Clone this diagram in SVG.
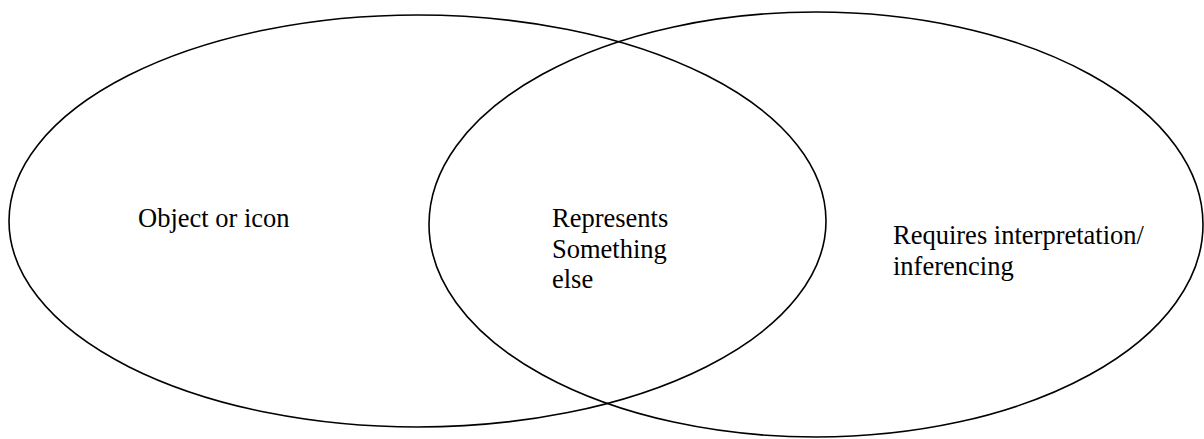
<svg xmlns="http://www.w3.org/2000/svg" width="1204" height="439" viewBox="0 0 1204 439">
<style>
.e{fill:none;stroke:#000;stroke-width:1.6}
.t{font-family:"Liberation Serif","Times New Roman",serif;font-size:26.5px;fill:#000}
</style>
<rect width="1204" height="439" fill="#fff"/>
<g id="left">
<ellipse class="e" cx="417.5" cy="221" rx="408.5" ry="206"/>
<text class="t" x="138" y="227">Object or icon</text>
</g>
<g id="right">
<ellipse class="e" cx="816" cy="224.5" rx="387" ry="212.5"/>
<text class="t" x="893" y="244">Requires interpretation/</text>
<text class="t" x="893" y="275">inferencing</text>
</g>
<g id="overlap">
<text class="t" x="552" y="227">Represents</text>
<text class="t" x="552" y="258">Something</text>
<text class="t" x="552" y="288">else</text>
</g>
<g id="connectors"/>
</svg>
